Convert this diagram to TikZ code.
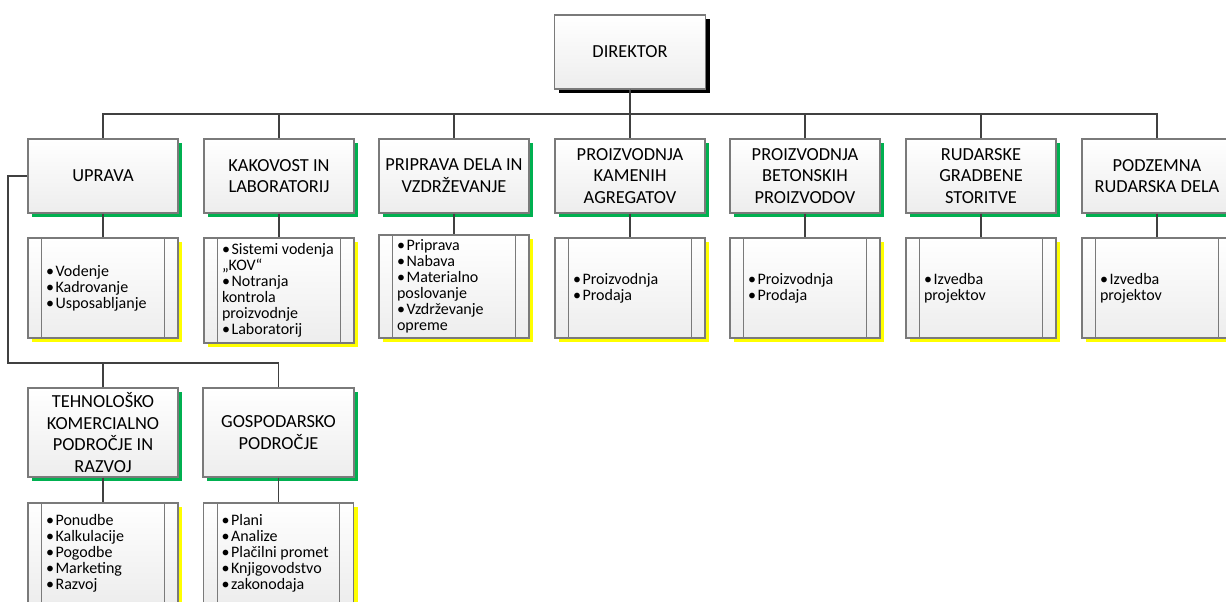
\documentclass[tikz,border=0pt]{standalone}
\usepackage{fontspec}
\setmainfont{Carlito}
\usetikzlibrary{shadows}
\definecolor{shgreen}{HTML}{00B050}
\definecolor{shyellow}{HTML}{FFFF00}
\definecolor{bordc}{HTML}{7A7A7A}
\definecolor{linec}{HTML}{404040}
\definecolor{botc}{HTML}{EDEDED}
\newcommand{\bt}{•\kern1.2pt}
\newcommand{\subfnt}{\fontsize{12}{12}\selectfont}
\newcommand{\mainfnt}{\fontsize{13.8}{16.3}\selectfont}
\newcommand{\tightsp}{\spaceskip=0.23em\relax}
\tikzset{
  orgbox/.style={draw=bordc, line width=0.8pt, top color=white, bottom color=botc,
    minimum width=112.5pt, minimum height=55.5pt, align=center, inner sep=2pt,
    font=\mainfnt,
    drop shadow={shadow xshift=3pt, shadow yshift=-3pt, fill=shgreen, opacity=1}},
  dirbox/.style={orgbox, minimum width=113.25pt,
    drop shadow={shadow xshift=3pt, shadow yshift=-3pt, fill=black, opacity=1}},
  subbox/.style={draw=bordc, line width=0.8pt, top color=white, bottom color=botc,
    minimum width=112.5pt, minimum height=75pt, align=left, text width=85.5pt,
    inner xsep=13.5pt, inner ysep=2pt,
    font=\subfnt, execute at begin node=\tightsp,
    drop shadow={shadow xshift=3pt, shadow yshift=-3pt, fill=shyellow, opacity=1}},
  conn/.style={draw=linec, line width=1.1pt},
  innerline/.style={draw=bordc, line width=0.8pt}
}
\begin{document}
\begin{tikzpicture}[x=0.75pt,y=-0.75pt]
\useasboundingbox (0,0) rectangle (1226,601);
\clip (0,0) rectangle (1226,601);
\fill[white] (0,0) rectangle (1226,601);

% director
\node[dirbox] (dir) at (630,52) {DIREKTOR};

% top row
\node[orgbox] (t1) at (103,176) {UPRAVA};
\node[orgbox] (t2) at (279,176) {KAKOVOST IN\\LABORATORIJ};
\node[orgbox] (t3) at (454,176) {PRIPRAVA DELA IN\\VZDRŽEVANJE};
\node[orgbox] (t4) at (630,176) {PROIZVODNJA\\KAMENIH\\AGREGATOV};
\node[orgbox] (t5) at (805,176) {PROIZVODNJA\\BETONSKIH\\PROIZVODOV};
\node[orgbox] (t6) at (981,176) {RUDARSKE\\GRADBENE\\STORITVE};
\node[orgbox] (t7) at (1157,176) {PODZEMNA\\RUDARSKA DELA};

% sub boxes top row
\node[subbox] (s1) at (103,288) {\bt Vodenje\\\bt Kadrovanje\\\bt Usposabljanje};
\node[subbox, minimum height=78.75pt] (s2) at (279,290.5) {\bt Sistemi vodenja\\„KOV“\\\bt Notranja\\kontrola\\proizvodnje\\\bt Laboratorij};
\node[subbox, minimum height=77.25pt] (s3) at (454,286.5) {\bt Priprava\\\bt Nabava\\\bt Materialno\\poslovanje\\\bt Vzdrževanje\\opreme};
\node[subbox] (s4) at (630,288) {\bt Proizvodnja\\\bt Prodaja};
\node[subbox] (s5) at (805,288) {\bt Proizvodnja\\\bt Prodaja};
\node[subbox] (s6) at (981,288) {\bt Izvedba\\projektov};
\node[subbox] (s7) at (1157,288) {\bt Izvedba\\projektov};

% bottom row
\node[orgbox, minimum height=66.75pt] (b1) at (103,432.5) {TEHNOLOŠKO\\KOMERCIALNO\\PODROČJE IN\\RAZVOJ};
\node[orgbox, minimum height=66.75pt, minimum width=113.25pt] (b2) at (278.5,432.5) {GOSPODARSKO\\PODROČJE};

\node[subbox] (sb1) at (103,553) {\bt Ponudbe\\\bt Kalkulacije\\\bt Pogodbe\\\bt Marketing\\\bt Razvoj};
\node[subbox] (sb2) at (278.5,553) {\bt Plani\\\bt Analize\\\bt Plačilni promet\\\bt Knjigovodstvo\\\bt zakonodaja};

% inner vertical lines of sub boxes
\foreach \n in {s1,s2,s3,s4,s5,s6,s7,sb1,sb2}{
  \draw[innerline] ([xshift=10.75pt]\n.north west) -- ([xshift=10.75pt]\n.south west);
  \draw[innerline] ([xshift=-10.75pt]\n.north east) -- ([xshift=-10.75pt]\n.south east);
}

% connectors
\coordinate (bus) at (630,114);
\foreach \n in {t1,t2,t3,t4,t5,t6,t7}{
  \draw[conn] (dir.south) -- (bus) -| (\n.north);
}
\foreach \a/\b in {t1/s1,t2/s2,t3/s3,t4/s4,t5/s5,t6/s6,t7/s7,b1/sb1,b2/sb2}{
  \draw[conn] (\a.south) -- (\b.north);
}
\coordinate (bus2) at (8,363);
\draw[conn] (t1.west) -| (bus2) -| (b2.north);
\draw[conn] (b1.north) -- (b1.north |- bus2);
\end{tikzpicture}
\end{document}
